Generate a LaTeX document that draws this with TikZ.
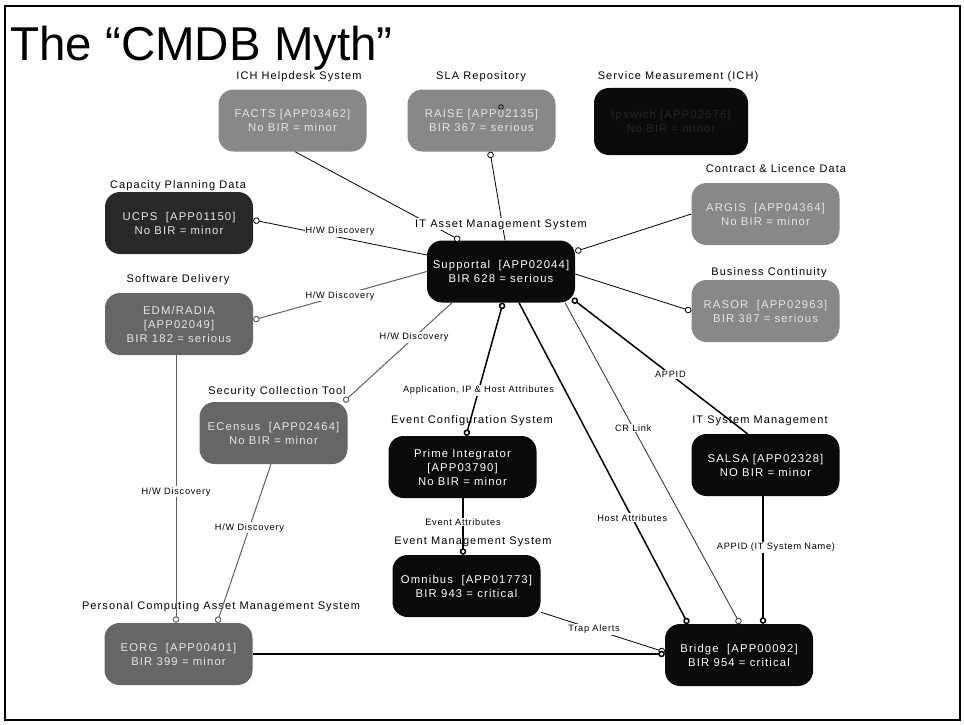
\documentclass[tikz,border=0pt]{standalone}
\usepackage{fontspec}
\setmainfont{Liberation Sans}
\newfontfamily\boxfnt[LetterSpace=10]{Liberation Sans}
\newfontfamily\lblfnt[LetterSpace=8]{Liberation Sans}
\usetikzlibrary{arrows.meta}
\definecolor{gA}{HTML}{888888}
\definecolor{gB}{HTML}{666666}
\definecolor{gC}{HTML}{282828}
\definecolor{gK}{HTML}{0A0A0A}
\definecolor{txtL}{HTML}{E6E6E6}
\definecolor{ipsT}{HTML}{262626}
\definecolor{lineG}{HTML}{606060}
\definecolor{lineD}{HTML}{3C3C3C}
\begin{document}
\begin{tikzpicture}[x=1pt,y=-1pt,
  sysbox/.style={rounded corners=15pt, minimum width=148pt, minimum height=62pt, inner sep=0pt, align=center, font=\boxfnt\fontsize{11.3}{14}\selectfont},
  boxA/.style={sysbox, fill=gA, text=txtL},
  boxB/.style={sysbox, fill=gB, text=txtL},
  boxC/.style={sysbox, fill=gC, text=txtL},
  boxK/.style={sysbox, fill=gK, text=white},
  grp/.style={inner sep=1pt, font=\boxfnt\fontsize{11}{13}\selectfont, text=black},
  lbl/.style={fill=white, inner sep=1pt, font=\lblfnt\fontsize{9.2}{10}\selectfont, text=black},
  con/.style={draw=black, line width=0.8pt},
  bcon/.style={draw=black, line width=1.5pt},
  gcon/.style={draw=lineG, line width=1pt},
  dcon/.style={draw=lineD, line width=0.9pt},
  oc/.style={-{Circle[length=6.5pt,width=6.5pt,fill=white]}},
  co/.style={{Circle[length=6.5pt,width=6.5pt,fill=white]}-},
  coc/.style={{Circle[length=6.5pt,width=6.5pt,fill=white]}-{Circle[length=6.5pt,width=6.5pt,fill=white]}},
]
\fill[white] (0,0) rectangle (964,725);
\useasboundingbox (0,0) rectangle (964,725);
\draw[line width=2pt] (5,6) rectangle (960,720);

\node[anchor=base west, inner sep=0pt, font=\fontsize{47.5}{48}\selectfont] (title) at (10,60) {The “CMDB Myth”};

% boxes
\node[boxA] (facts) at (292.5,120.5) {FACTS [APP03462]\\No BIR = minor};
\node[boxA] (raise) at (481.5,120.5) {RAISE [APP02135]\\BIR 367 = serious};
\node[boxK, minimum width=154pt, minimum height=67pt, text=ipsT] (ipswich) at (671,121.5) {Ipswich [APP02676]\\No BIR = minor};
\node[boxA] (argis) at (765.5,214) {ARGIS~ [APP04364]\\No BIR = minor};
\node[boxC] (ucps) at (179,223) {UCPS~ [APP01150]\\No BIR = minor};
\node[boxK] (supp) at (501,271.5) {Supportal~ [APP02044]\\BIR 628 = serious};
\node[boxB] (edm) at (179,324) {EDM/RADIA\\{}[APP02049]\\BIR 182 = serious};
\node[boxA] (rasor) at (765.5,311) {RASOR~ [APP02963]\\BIR 387 = serious};
\node[boxB] (ecen) at (273.5,433) {ECensus~ [APP02464]\\No BIR = minor};
\node[boxK] (prime) at (462.5,467) {Prime Integrator\\{}[APP03790]\\No BIR = minor};
\node[boxK] (salsa) at (765.5,465) {SALSA [APP02328]\\NO BIR = minor};
\node[boxK] (omni) at (466.5,586) {Omnibus~ [APP01773]\\BIR 943 = critical};
\node[boxB] (eorg) at (178.5,654) {EORG~ [APP00401]\\BIR 399 = minor};
\node[boxK] (bridge) at (739,655) {Bridge~ [APP00092]\\BIR 954 = critical};

% group labels
\node[grp, anchor=base] (gfacts) at (299,79) {ICH Helpdesk System};
\node[grp, anchor=base] (graise) at (481,79) {SLA Repository};
\node[grp, anchor=base] (gips) at (678,80) {Service Measurement (ICH)};
\node[grp, anchor=base] (gargis) at (776,172) {Contract \& Licence Data};
\node[grp, anchor=base] (gucps) at (178,188) {Capacity Planning Data};
\node[grp, anchor=base] (gedm) at (178,282) {Software Delivery};
\node[grp, anchor=base] (grasor) at (769,275) {Business Continuity};
\node[grp, anchor=base] (gecen) at (277,394) {Security Collection Tool};
\node[grp, anchor=base] (gprime) at (472,423) {Event Configuration System};
\node[grp, anchor=base] (gsalsa) at (760,423) {IT System Management};
\node[grp, anchor=base] (gomni) at (473,544) {Event Management System};
\node[grp, anchor=base] (georg) at (221,609) {Personal Computing Asset Management System};

% connectors
\draw[con, oc] ([xshift=2.5pt]facts.south) -- ([xshift=-41pt]supp.north);
\draw[con, co] ([xshift=8.5pt]raise.south) -- ([xshift=4pt]supp.north);
\draw[con, co] ([yshift=3pt]ucps.east) -- node[lbl, yshift=6pt] {H/W Discovery} ([yshift=16.5pt]supp.west);
\draw[gcon, co] ([yshift=4pt]edm.east) -- node[lbl] {H/W Discovery} (supp.west);
\draw[gcon, co] ([xshift=-4pt]ecen.north east) -- node[lbl, pos=0.65] {H/W Discovery} ([xshift=-49pt]supp.south);
\draw[con, oc] (argis.west) -- ([yshift=20pt]supp.east);
\draw[con, oc] ([yshift=-2.5pt]supp.east) -- (rasor.west);
\draw[bcon, co] ([xshift=-3pt,yshift=4pt]supp.south east) -- node[lbl, pos=0.56] {APPID} ([xshift=-18pt]salsa.north);
\draw[bcon, coc] ([xshift=2pt]supp.south) -- node[lbl, pos=0.66] {Application, IP \& Host Attributes} ([xshift=3.5pt]prime.north);
\draw[bcon, oc] ([xshift=0.5pt]prime.south) -- node[lbl, pos=0.42] {Event Attributes} ([xshift=-3.5pt]omni.north);
\draw[bcon, oc] ([xshift=18pt]supp.south) -- node[lbl, pos=0.67] {Host Attributes} ([xshift=-51pt]bridge.north);
\draw[dcon, oc] ([xshift=64pt]supp.south) -- node[lbl, pos=0.39] {CR Link} ([xshift=1pt]bridge.north);
\draw[bcon, oc] ([xshift=-2.5pt]salsa.south) -- node[lbl, pos=0.4, xshift=13pt] {APPID (IT System Name)} ([xshift=24pt]bridge.north);
\draw[con, oc] ([yshift=5pt]omni.south east) -- node[lbl, pos=0.43] {Trap Alerts} ([yshift=3pt]bridge.west);
\draw[bcon, oc] (eorg.east) -- ([yshift=1pt]bridge.west);
\draw[gcon, oc] ([xshift=-3pt]edm.south) -- node[lbl, pos=0.51] {H/W Discovery} ([xshift=-2.5pt]eorg.north);
\draw[gcon, oc] ([xshift=-2.5pt]ecen.south) -- node[lbl, pos=0.4] {H/W Discovery} ([xshift=38.5pt]eorg.north);

% small end mark on RAISE
\node[circle, draw, inner sep=0pt, minimum size=4.5pt, line width=0.8pt] (raisedot) at (501,107) {};

% label over the lines
\node[grp, anchor=base, fill=white] (gsupp) at (501,227) {IT Asset Management System};
\end{tikzpicture}
\end{document}
